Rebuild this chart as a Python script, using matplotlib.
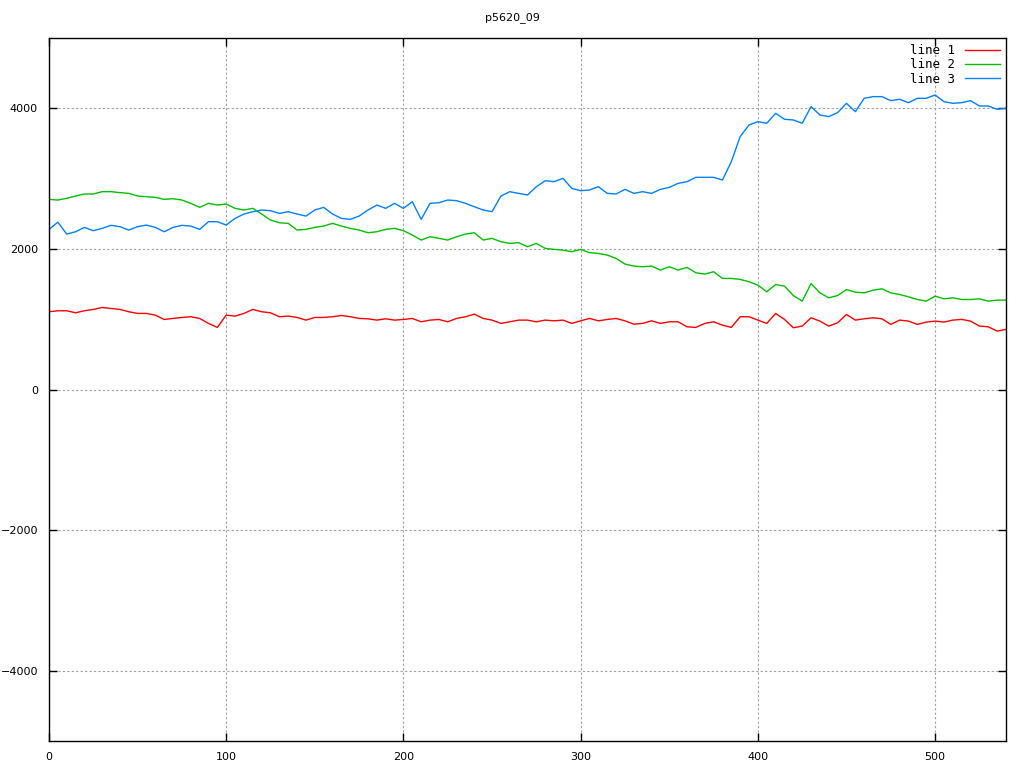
import matplotlib
matplotlib.use("Agg")
import matplotlib.pyplot as plt
import numpy as np

title = "p5620_09"
x_values = list(range(0, 541, 5))

line1 = [1106, 1120, 1120, 1091, 1120, 1139, 1167, 1153, 1139, 1106, 1082, 1082, 1058, 996, 1011, 1025, 1035, 1011, 940, 883, 1058, 1044, 1082, 1139, 1106, 1091, 1035, 1044,
         1025, 987, 1025, 1025, 1035, 1053, 1035, 1011, 1006, 987, 1006, 987, 996, 1011, 963, 987, 996, 963, 1011, 1035, 1072, 1011, 987, 940, 963, 987, 987,
         963, 987, 977, 987, 940, 977, 1011, 977, 996, 1011, 977, 930, 940, 977, 940, 963, 963, 892, 883, 940, 963, 916, 883, 1035, 1035, 987, 940,
         1082, 997, 878, 902, 1020, 973, 902, 949, 1067, 987, 1006, 1020, 1006, 926, 987, 973, 926, 959, 973, 959, 987, 997, 973, 902, 892, 831, 855]

line2 = [2705, 2695, 2719, 2752, 2781, 2781, 2814, 2814, 2800, 2790, 2752, 2743, 2733, 2705, 2714, 2695, 2648, 2591, 2648, 2624, 2638, 2577, 2553, 2577, 2496, 2410, 2372, 2363,
         2268, 2278, 2306, 2325, 2363, 2325, 2292, 2268, 2230, 2244, 2278, 2292, 2259, 2197, 2126, 2173, 2150, 2126, 2173, 2211, 2230, 2126, 2150, 2102, 2078, 2088, 2031,
         2078, 2007, 1993, 1983, 1960, 1993, 1946, 1936, 1912, 1865, 1784, 1756, 1746, 1756, 1699, 1746, 1699, 1737, 1661, 1642, 1675, 1580, 1580, 1566, 1533, 1485, 1390,
         1493, 1470, 1337, 1257, 1507, 1375, 1304, 1337, 1422, 1384, 1375, 1413, 1432, 1375, 1351, 1318, 1280, 1257, 1328, 1290, 1304, 1280, 1280, 1290, 1257, 1271, 1271]

line3 = [2278, 2380, 2211, 2244, 2306, 2259, 2292, 2335, 2316, 2268, 2316, 2339, 2306, 2244, 2306, 2335, 2325, 2278, 2387, 2387, 2339, 2434, 2496, 2529, 2553, 2543, 2505, 2529,
         2496, 2467, 2553, 2591, 2496, 2434, 2420, 2467, 2553, 2624, 2577, 2648, 2577, 2671, 2420, 2648, 2657, 2695, 2686, 2648, 2600, 2553, 2530, 2752, 2814, 2790, 2767,
         2885, 2970, 2956, 3004, 2861, 2828, 2838, 2885, 2790, 2781, 2847, 2790, 2814, 2790, 2847, 2875, 2932, 2956, 3018, 3018, 3018, 2980, 3241, 3597, 3763, 3810, 3787,
         3929, 3844, 3834, 3787, 4024, 3905, 3882, 3939, 4071, 3953, 4142, 4166, 4166, 4109, 4128, 4080, 4142, 4142, 4189, 4095, 4071, 4080, 4109, 4033, 4033, 3986, 4000]

labels = ["line 1", "line 2", "line 3"]
colors = ["#ff0000", "#00c000", "#0080ff"]
x_ticks = [0, 100, 200, 300, 400, 500]
y_ticks = [-4000, -2000, 0, 2000, 4000]

fig = plt.figure(figsize=(10.24, 7.68), dpi=100)
ax = fig.add_axes([49/1024, 1 - 741/768, (1006-49)/1024, (741-38)/768])

for y, lab, c in zip([line1, line2, line3], labels, colors):
    ax.plot(x_values, y, color=c, lw=1.0, label=lab)

ax.set_xlim(0, 540)
ax.set_ylim(-5000, 5000)
ax.set_xticks(x_ticks)
ax.set_yticks(y_ticks)
ax.set_xticklabels([str(t) for t in x_ticks])
ax.set_yticklabels([("\u2212" + str(-t)) if t < 0 else str(t) for t in y_ticks])
ax.tick_params(direction="in", length=6, width=1, top=True, right=True,
               labelsize=8, pad=8, colors="black")
ax.grid(True, color="#a0a0a0", linestyle=(0, (2, 2)), lw=0.8)
for s in ax.spines.values():
    s.set_linewidth(1)
    s.set_color("black")

fig.text(0.5, 1 - 18/768, title, ha="center", va="center", fontsize=8)
leg = ax.legend(loc="upper right", frameon=False, markerfirst=False,
                prop={"family": "DejaVu Sans Mono", "size": 9}, handlelength=2.8,
                labelspacing=0.1, borderaxespad=0.1, handletextpad=0.8)
fig.savefig("out.png", dpi=100)
